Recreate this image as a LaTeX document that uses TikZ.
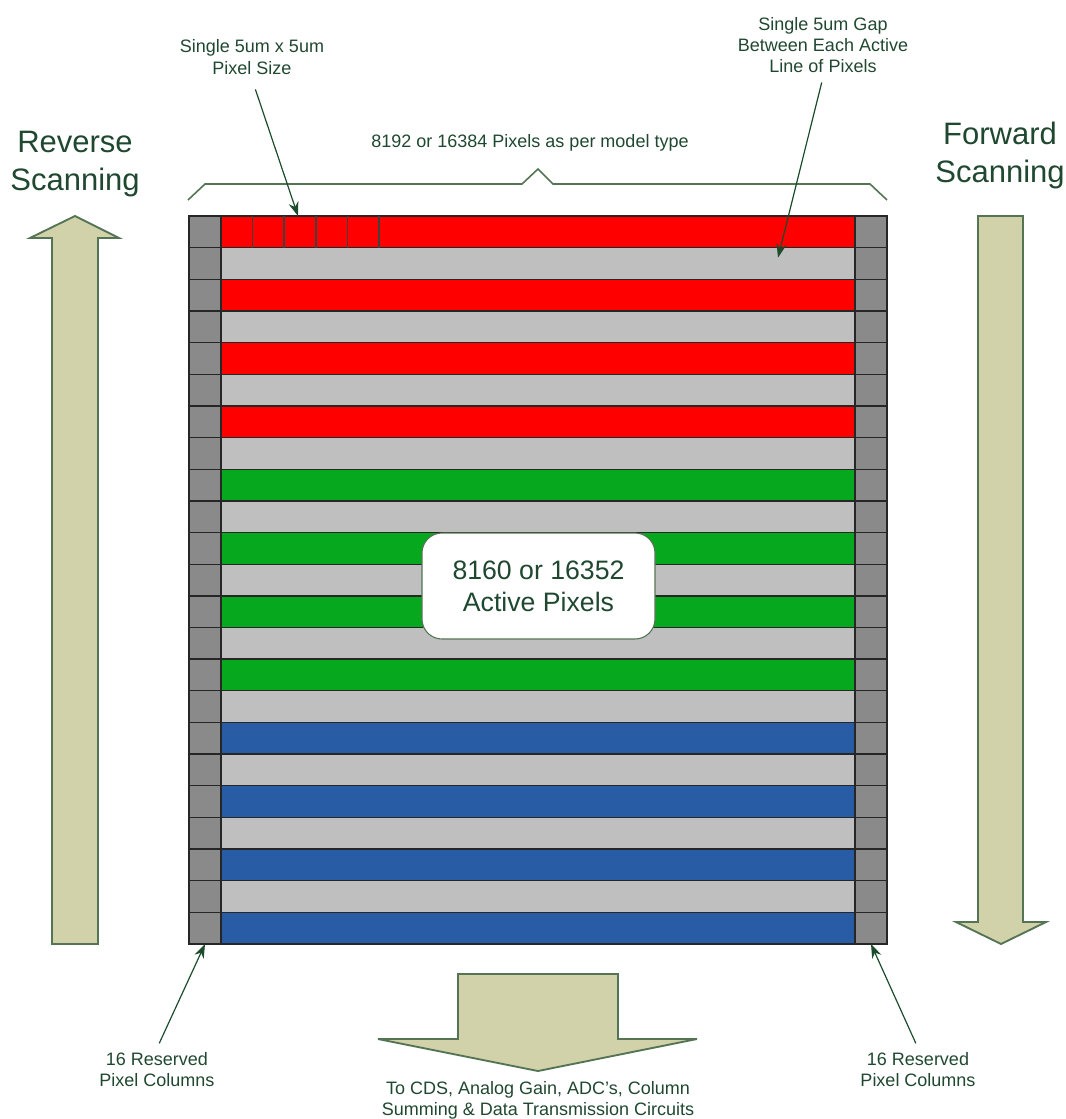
\documentclass[tikz,border=0pt]{standalone}
\usepackage{fontspec}
\setmainfont{Liberation Sans}
\usepackage{tikz}
\usetikzlibrary{positioning,calc,arrows.meta}

\definecolor{linered}{RGB}{255,0,0}
\definecolor{linegreen}{RGB}{6,168,30}
\definecolor{lineblue}{RGB}{40,93,166}
\definecolor{gapgray}{RGB}{191,191,191}
\definecolor{resgray}{RGB}{138,138,138}
\definecolor{arrowfill}{RGB}{210,210,170}
\definecolor{arrowedge}{RGB}{84,116,84}
\definecolor{labeltext}{RGB}{32,72,48}
\definecolor{pointergreen}{RGB}{28,76,44}

\begin{document}
\begin{tikzpicture}[
    x=0.75pt, y=-0.75pt,
    every node/.style={text=labeltext},
    pxrow/.style={draw=black!85, line width=1pt, inner sep=0, outer sep=0, minimum width=475.5pt, minimum height=23.74pt},
    rescell/.style={pxrow, fill=resgray, minimum width=24pt},
    bigarrow/.style={fill=arrowfill, draw=arrowedge, line width=1.4pt},
    pointer/.style={draw=pointergreen, line width=0.9pt, -{Stealth[length=10.5pt,width=7.5pt]}},
    note/.style={align=center, font=\fontsize{13.5}{15.75}\selectfont},
    bignote/.style={align=center, font=\fontsize{23.25}{28.5}\selectfont},
]
\useasboundingbox (0,0) rectangle (1065,1119);

% sensor lines
\node [pxrow, fill=linered, anchor=north west] (row0) at (221,216) {};
\foreach \c [count=\i] in {gapgray,linered,gapgray,linered,gapgray,linered,gapgray,linegreen,gapgray,linegreen,gapgray,linegreen,gapgray,linegreen,gapgray,lineblue,gapgray,lineblue,gapgray,lineblue,gapgray,lineblue}{
  \pgfmathtruncatemacro{\j}{\i-1}
  \node [pxrow, fill=\c, below=0 of row\j] (row\i) {};
}
\foreach \i in {0,...,22}{
  \node [rescell, left=0 of row\i] (resL\i) {};
  \node [rescell, right=0 of row\i] (resR\i) {};
}
\foreach \k in {1,...,5}
  \draw [draw=black!75, line width=1.1pt] ($(row0.north west)+(\k*31.6,0)$) -- ($(row0.south west)+(\k*31.6,0)$);

\node [draw=arrowedge, fill=white, line width=0.8pt, rounded corners=15pt, minimum width=174.75pt, minimum height=79.5pt, align=center, font=\fontsize{20}{24}\selectfont] (activebox) at (538.5,586) {8160 or 16352\\Active Pixels};

% width bracket
\draw [draw=arrowedge, line width=1.2pt] (188,200) -- (205,184) -- (522,184) -- (538,169) -- (553,184) -- (870,184) -- (887,200);
\node [note] (widthlbl) at (530,143) {8192 or 16384 Pixels as per model type};

% scanning arrows
\draw [bigarrow] (52,944) -- (52,238) -- (30,238) -- (75,216) -- (119,238) -- (98,238) -- (98,944) -- cycle;
\draw [bigarrow] (978,216) -- (1023,216) -- (1023,922) -- (1046,922) -- (1001,944) -- (956,922) -- (978,922) -- cycle;
\draw [bigarrow] (458,974) -- (618,974) -- (618,1039) -- (697,1039) -- (538,1071) -- (378,1039) -- (458,1039) -- cycle;
\node [bignote] (revlbl) at (75,164) {Reverse\\Scanning};
\node [bignote] (fwdlbl) at (1000,155) {Forward\\Scanning};

% labels
\node [note, font=\fontsize{13.5}{16.5}\selectfont] (pixlbl) at (252,57) {Single 5um x 5um\\Pixel Size};
\node [note] (gaplbl) at (823,45) {Single 5um Gap\\Between Each Active\\Line of Pixels};
\node [note] (resLlbl) at (157,1070) {16 Reserved\\Pixel Columns};
\node [note] (resRlbl) at (918,1070) {16 Reserved\\Pixel Columns};
\node [note] (outlbl) at (538,1100) {To CDS, Analog Gain, ADC’s, Column\\Summing \& Data Transmission Circuits};

\coordinate (pixtip) at ($(row0.north west)+(77,0)$);
\coordinate (gaptip) at ($(row1.north west)+(557,10)$);
\draw [pointer, shorten <=8pt] (pixlbl.south) -- (pixtip);
\draw [pointer, shorten <=4pt] (gaplbl.south) -- (gaptip);
\draw [pointer, shorten <=4pt] (resLlbl.north) -- (resL22.south);
\draw [pointer, shorten <=4pt] (resRlbl.north) -- (resR22.south);
\end{tikzpicture}
\end{document}
